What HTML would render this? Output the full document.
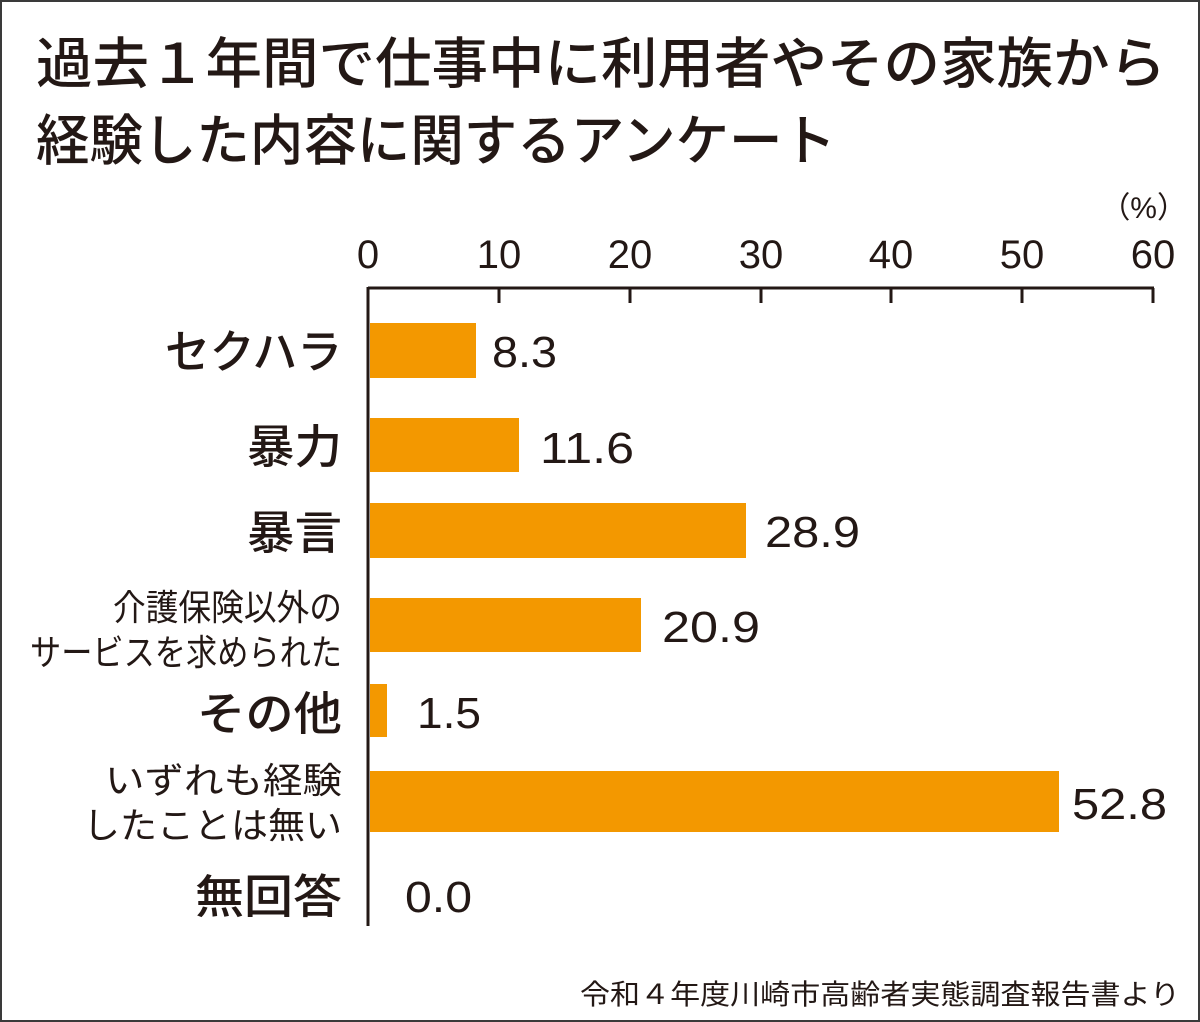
<!DOCTYPE html>
<html><head><meta charset="utf-8"><style>
body{margin:0;background:#fff}
svg{display:block}
text{font-family:"Liberation Sans","Noto Sans CJK JP",sans-serif;fill:#231815}
</style></head><body>
<svg width="1200" height="1022" viewBox="0 0 1200 1022">
<rect x="1" y="1" width="1198" height="1020" fill="#fff" stroke="#3a3a3a" stroke-width="2"/>
<text x="36" y="83" font-size="55" font-weight="500" textLength="1130" lengthAdjust="spacingAndGlyphs" font-family="Noto Sans CJK JP">過去１年間で仕事中に利用者やその家族から</text>
<text x="36" y="160" font-size="55" font-weight="500" textLength="800" lengthAdjust="spacingAndGlyphs" font-family="Noto Sans CJK JP">経験した内容に関するアンケート</text>
<text x="1187" y="218" font-size="30" text-anchor="end">（%）</text>
<g font-size="40" text-anchor="middle">
<text x="368" y="268">0</text><text x="499" y="268">10</text><text x="630" y="268">20</text><text x="761" y="268">30</text><text x="891" y="268">40</text><text x="1022" y="268">50</text><text x="1153" y="268">60</text>
</g>
<g stroke="#231815" stroke-width="3" fill="none">
<path d="M368 288H1154M368 287V926"/>
<path d="M499 288V303M630 288V303M761 288V303M891 288V303M1022 288V303M1153 288V303"/>
</g>
<g fill="#f39800">
<rect x="370" y="323" width="106" height="55"/>
<rect x="370" y="418" width="149" height="54"/>
<rect x="370" y="503" width="376" height="55"/>
<rect x="370" y="598" width="271" height="54"/>
<rect x="370" y="684" width="17" height="53"/>
<rect x="370" y="771" width="689" height="61"/>
</g>
<g font-size="44">
<text x="492" y="367" textLength="65" lengthAdjust="spacingAndGlyphs">8.3</text>
<text x="540" y="463" textLength="94" lengthAdjust="spacingAndGlyphs">11.6</text>
<text x="765" y="547" textLength="95" lengthAdjust="spacingAndGlyphs">28.9</text>
<text x="662" y="642" textLength="98" lengthAdjust="spacingAndGlyphs">20.9</text>
<text x="417" y="728" textLength="64" lengthAdjust="spacingAndGlyphs">1.5</text>
<text x="1072" y="819" textLength="95" lengthAdjust="spacingAndGlyphs">52.8</text>
<text x="405" y="912" textLength="67" lengthAdjust="spacingAndGlyphs">0.0</text>
</g>
<g font-size="46" font-family="Noto Sans CJK JP" font-weight="500">
<text x="165" y="368" textLength="177" lengthAdjust="spacingAndGlyphs">セクハラ</text>
<text x="247" y="463" textLength="95" lengthAdjust="spacingAndGlyphs">暴力</text>
<text x="247" y="549" textLength="95" lengthAdjust="spacingAndGlyphs">暴言</text>
<text x="197" y="730" textLength="145" lengthAdjust="spacingAndGlyphs">その他</text>
<text x="195" y="913" textLength="147" lengthAdjust="spacingAndGlyphs">無回答</text>
</g>
<g font-size="36" font-family="Noto Sans CJK JP">
<text x="113" y="620" textLength="229" lengthAdjust="spacingAndGlyphs">介護保険以外の</text>
<text x="30" y="665" textLength="312" lengthAdjust="spacingAndGlyphs">サービスを求められた</text>
<text x="105" y="793" textLength="237" lengthAdjust="spacingAndGlyphs">いずれも経験</text>
<text x="83" y="838" textLength="259" lengthAdjust="spacingAndGlyphs">したことは無い</text>
</g>
<text x="580" y="1004" font-size="28" textLength="600" lengthAdjust="spacingAndGlyphs" font-family="Noto Sans CJK JP">令和４年度川崎市高齢者実態調査報告書より</text>
</svg>
</body></html>
